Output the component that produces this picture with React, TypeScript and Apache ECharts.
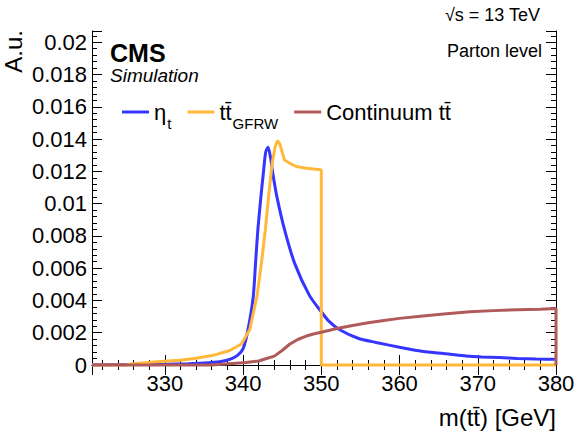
import React, { useEffect, useRef } from "react";
import * as echarts from "echarts";

// ---- data ----
const X_MIN = 320.7;
const X_MAX = 380;
const Y_MAX = 0.0207;

const etaX = [320.7, 326, 330, 333, 335, 337, 338.3, 339.3, 340, 340.6, 341.3, 341.6, 341.9, 342.3, 342.6, 342.9, 343.2, 343.5, 343.8, 344.3, 345.3, 346.6, 348.5, 350, 351, 352.3, 354.7, 357, 360, 362, 364.3, 366.5, 368.5, 370.5, 372.8, 375, 377.5, 380];
const etaY = [0.00002, 0.00003, 0.00005, 0.00008, 0.00012, 0.0002, 0.00035, 0.0006, 0.001, 0.0021, 0.0042, 0.0063, 0.0084, 0.0105, 0.0119, 0.0132, 0.0135, 0.0129, 0.0119, 0.0105, 0.0084, 0.0063, 0.0043, 0.0033, 0.0027, 0.0022, 0.00166, 0.0014, 0.0011, 0.00092, 0.00077, 0.00066, 0.00056, 0.0005, 0.00046, 0.00041, 0.00037, 0.00035];

const gfrwX = [320.7, 325, 326, 329, 331.9, 334, 336.2, 338.3, 339.8, 340.86, 341.8, 342.35, 342.86, 343.28, 343.75, 344.1, 344.4, 344.7, 345.3, 346, 346.8, 348.1, 349.9, 350, 350, 380];
const gfrwY = [0, 0, 0.00008, 0.0002, 0.0003, 0.00042, 0.0006, 0.0009, 0.0013, 0.0022, 0.0043, 0.0063, 0.0084, 0.0105, 0.0126, 0.0135, 0.0139, 0.0137, 0.0127, 0.0125, 0.0123, 0.0122, 0.0121, 0.0121, 0, 0];

const contX = [320.7, 336, 338.7, 340.4, 342, 343, 344, 345, 346, 347, 348, 349, 350, 352, 354, 356, 358, 360, 363, 366, 369, 372, 375, 378, 380, 380];
const contY = [0, 0, 0.0001, 0.00015, 0.00025, 0.0004, 0.00055, 0.0009, 0.0013, 0.00158, 0.00178, 0.00192, 0.00203, 0.00226, 0.00245, 0.00262, 0.00276, 0.00289, 0.00304, 0.00318, 0.0033, 0.00337, 0.00342, 0.00346, 0.0035, 0];

const seriesNames = ["eta", "gfrw", "cont"];
const seriesColors = ["#3535ff", "#ffb83a", "#b05a5a"];
const seriesSmooth = [0.25, false, false];

const FONT = "Liberation Sans, Arial, Helvetica, sans-serif";

const zip = (xs: number[], ys: number[]) => xs.map((x, i) => [x, ys[i]]);

export default function App() {
  const ref = useRef<HTMLDivElement>(null);

  useEffect(() => {
    if (!ref.current) return;
    const chart = echarts.init(ref.current, undefined, { renderer: "svg" });

    const grid = { left: 92, right: 24, top: 31, bottom: 70 };

    const xLabelFmt = (v: number) =>
      Math.abs(v - Math.round(v / 10) * 10) < 1e-6 ? String(Math.round(v)) : "";
    const yLabelFmt = (v: number) => {
      const k = Math.round(v / 0.002);
      if (Math.abs(v - k * 0.002) > 1e-7) return "";
      return k === 0 ? "0" : String(+(k * 0.002).toFixed(3));
    };

    const blackLine = { show: true, lineStyle: { color: "#000", width: 1 } };

    const xMain = (pos: string, labels: boolean) => ({
      type: "value",
      position: pos,
      min: X_MIN,
      max: X_MAX,
      splitNumber: 6,
      minInterval: 10,
      maxInterval: 10,
      axisLine: blackLine,
      axisTick: { show: true, inside: true, length: 10, lineStyle: { color: "#000" } },
      splitLine: { show: false },
      axisLabel: labels
        ? { show: true, formatter: xLabelFmt, fontSize: 22, color: "#000", fontFamily: FONT, margin: 7 }
        : { show: false },
    });
    const xMinor = (pos: string) => ({
      type: "value",
      position: pos,
      min: X_MIN,
      max: X_MAX,
      splitNumber: 30,
      minInterval: 2,
      maxInterval: 2,
      axisLine: { show: false },
      axisTick: { show: true, inside: true, length: 5, lineStyle: { color: "#000" } },
      splitLine: { show: false },
      axisLabel: { show: false },
    });
    const yMain = (pos: string, labels: boolean) => ({
      type: "value",
      position: pos,
      min: 0,
      max: Y_MAX,
      interval: 0.002,
      axisLine: blackLine,
      axisTick: { show: true, inside: true, length: 10, lineStyle: { color: "#000" } },
      splitLine: { show: false },
      axisLabel: labels
        ? { show: true, formatter: yLabelFmt, fontSize: 22, color: "#000", fontFamily: FONT, margin: 5 }
        : { show: false },
    });
    const yMinor = (pos: string) => ({
      type: "value",
      position: pos,
      min: 0,
      max: Y_MAX,
      interval: 0.0004,
      axisLine: { show: false },
      axisTick: { show: true, inside: true, length: 5, lineStyle: { color: "#000" } },
      splitLine: { show: false },
      axisLabel: { show: false },
    });

    const datasets = [zip(etaX, etaY), zip(gfrwX, gfrwY), zip(contX, contY)];

    const option: any = {
      animation: false,
      backgroundColor: "#fff",
      grid,
      xAxis: [xMain("bottom", true), xMinor("bottom"), xMain("top", false), xMinor("top")],
      yAxis: [yMain("left", true), yMinor("left"), yMain("right", false), yMinor("right")],
      legend: {
        left: 117,
        top: 88,
        icon: "rect",
        itemWidth: 27,
        itemHeight: 3,
        itemGap: 16,
        data: seriesNames,
        formatter: (name: string) => {
          if (name === "eta") return "{m|η}{s|t}";
          if (name === "gfrw") return "{m|tt\u0304}{s|GFRW}";
          return "{m|Continuum tt\u0304}";
        },
        textStyle: {
          fontFamily: FONT,
          fontSize: 22,
          color: "#000",
          rich: {
            m: { fontFamily: FONT, fontSize: 22, lineHeight: 24, color: "#000" },
            s: { fontFamily: FONT, fontSize: 15, lineHeight: 16, padding: [23, 0, 0, 1], color: "#000" },
          },
        },
      },
      series: seriesNames.map((n, i) => ({
        name: n,
        type: "line",
        xAxisIndex: 0,
        yAxisIndex: 0,
        data: datasets[i],
        showSymbol: false,
        symbol: "none",
        smooth: seriesSmooth[i],
        clip: false,
        color: seriesColors[i],
        lineStyle: { color: seriesColors[i], width: 3 },
        z: 3 + i,
      })),
      graphic: [
        {
          type: "text",
          x: 110,
          y: 52.5,
          style: { text: "CMS", fontFamily: FONT, fontWeight: "bold", fontSize: 25, fill: "#000", align: "left", verticalAlign: "middle" },
        },
        {
          type: "text",
          x: 110,
          y: 75,
          style: { text: "Simulation", fontFamily: FONT, fontStyle: "italic", fontSize: 19, fill: "#000", align: "left", verticalAlign: "middle" },
        },
        {
          type: "text",
          x: 542,
          y: 50.5,
          style: { text: "Parton level", fontFamily: FONT, fontSize: 18, fill: "#000", align: "right", verticalAlign: "middle" },
        },
        {
          type: "text",
          x: 540,
          y: 14.5,
          style: { text: "\u221As = 13 TeV", fontFamily: FONT, fontSize: 18, fill: "#000", align: "right", verticalAlign: "middle" },
        },
        {
          type: "text",
          x: 13,
          y: 30,
          rotation: Math.PI / 2,
          style: { text: "A.u.", fontFamily: FONT, fontSize: 24, fill: "#000", align: "right", verticalAlign: "middle" },
        },
        {
          type: "text",
          x: 556,
          y: 417,
          style: { text: "m(tt\u0304) [GeV]", fontFamily: FONT, fontSize: 24, fill: "#000", align: "right", verticalAlign: "middle" },
        },
      ],
    };

    chart.setOption(option);
    return () => chart.dispose();
  }, []);

  return (
    <div
      ref={ref}
      style={{ position: "fixed", left: 0, top: 0, width: 580, height: 435, background: "#fff" }}
    />
  );
}
